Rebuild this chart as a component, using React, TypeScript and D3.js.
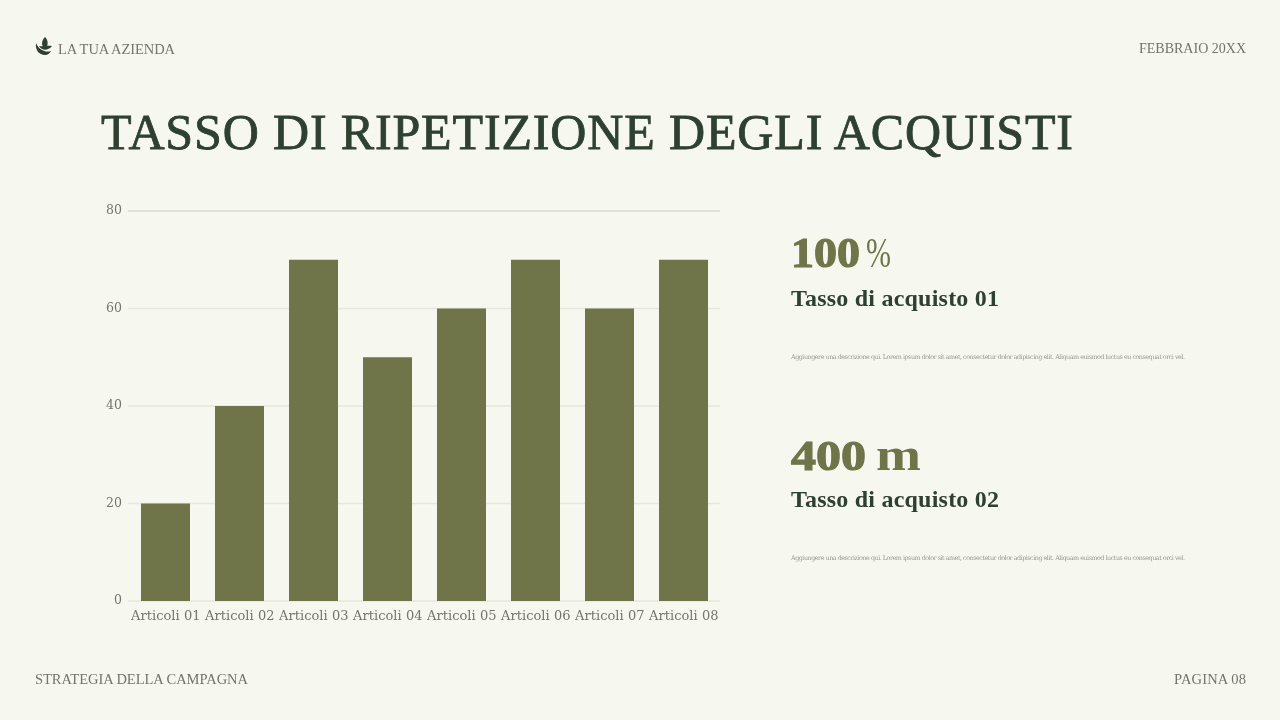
import { useEffect, useRef } from "react"
import * as d3 from "d3"

const categories = ["Articoli 01", "Articoli 02", "Articoli 03", "Articoli 04", "Articoli 05", "Articoli 06", "Articoli 07", "Articoli 08"]
const values = [20, 40, 70, 50, 60, 70, 60, 70]
const yTicks = [0, 20, 40, 60, 80]
const description = "Aggiungere una descrizione qui. Lorem ipsum dolor sit amet, consectetur dolor adipiscing elit. Aliquam euismod luctus eu consequat orci vel."
const statBig = ["100", "400"]
const statUnit = ["%", "m"]
const statLabel = ["Tasso di acquisto 01", "Tasso di acquisto 02"]

const BG = "#f6f8f0"
const DARK = "#2f4030"
const OLIVE = "#6f7549"
const GREY = "#74746b"
const SERIF = "'Liberation Serif', serif"
const BODY = "'DejaVu Serif', serif"

const App = () => {
  const svgRef = useRef<SVGSVGElement | null>(null)

  useEffect(() => {
    const svg = d3.select(svgRef.current)
    svg.selectAll("*").remove()

    svg.append("rect").attr("width", 1280).attr("height", 720).attr("fill", BG)

    // slight blur: the reference is soft and has no coloured text fringes
    svg.append("defs").append("filter").attr("id", "soft")
      .attr("filterUnits", "userSpaceOnUse")
      .attr("x", 0).attr("y", 0).attr("width", 1280).attr("height", 720)
      .append("feGaussianBlur").attr("stdDeviation", 0.3)

    const root = svg.append("g").attr("filter", "url(#soft)")

    const text = (x: number, y: number, s: string, size: number, fill: string, family = SERIF, anchor = "start") =>
      root.append("text").attr("x", x).attr("y", y).attr("font-size", size)
        .attr("fill", fill).attr("font-family", family).attr("text-anchor", anchor).text(s)

    // header and footer
    text(58, 54, "LA TUA AZIENDA", 14.5, GREY).attr("textLength", 117)
    text(1139, 53, "FEBBRAIO 20XX", 14, GREY).attr("textLength", 107)
    text(35, 684, "STRATEGIA DELLA CAMPAGNA", 14.5, GREY).attr("textLength", 213)
    text(1174, 684, "PAGINA 08", 14.5, GREY).attr("textLength", 72)

    // leaf logo
    const logo = root.append("g").attr("fill", DARK)
    logo.append("path").attr("d", "M45 37 C49 41 48 46 45 49 C41 46 41 41 45 37 Z")
    logo.append("path").attr("d", "M36 43 C35 50 39 55 45 55 C48 55 50 53 51 51 C46 53 39 50 36 43 Z")
    logo.append("path").attr("d", "M39 46 C42 51 48 51 52 46 C47 45 43 47 39 46 Z")

    text(101, 149, "TASSO DI RIPETIZIONE DEGLI ACQUISTI", 50, DARK).attr("textLength", 972)
      .attr("lengthAdjust", "spacing")
      .attr("stroke", DARK).attr("stroke-width", 0.8)

    // chart
    const x = d3.scaleBand<string>().domain(categories).range([128.5, 720.5]).paddingInner(0.338).paddingOuter(0.169)
    const y = d3.scaleLinear().domain([0, 80]).range([601, 211])

    const chart = root.append("g")
    chart.selectAll("line.grid").data(yTicks).enter().append("line")
      .attr("class", "grid")
      .attr("x1", 128).attr("x2", 720)
      .attr("y1", d => y(d)).attr("y2", d => y(d))
      .attr("stroke", d => (d === 80 ? "#c8cabf" : "#e5e7dc"))
      .attr("stroke-width", d => (d === 80 ? 1 : 1.5))

    chart.selectAll("rect").data(values).enter().append("rect")
      .attr("x", (_, i) => x(categories[i]) as number)
      .attr("y", d => y(d))
      .attr("width", x.bandwidth())
      .attr("height", d => y(0) - y(d))
      .attr("fill", OLIVE)

    chart.selectAll("text.ytick").data(yTicks).enter().append("text")
      .attr("class", "ytick")
      .attr("x", 122).attr("y", d => y(d) + 3)
      .attr("text-anchor", "end")
      .attr("font-size", 12.5).attr("font-family", BODY).attr("fill", GREY)
      .text(d => d)

    chart.selectAll("text.xtick").data(categories).enter().append("text")
      .attr("class", "xtick")
      .attr("x", d => (x(d) as number) + x.bandwidth() / 2 - 34.5)
      .attr("y", 620)
      .attr("font-size", 13).attr("font-family", BODY).attr("fill", GREY)
      .attr("textLength", 69.5)
      .text(d => d)

    // side stats
    statBig.forEach((big, i) => {
      const by = i === 0 ? 267 : 470
      const ly = i === 0 ? 306 : 507
      const dy = i === 0 ? 359 : 560
      const bigLen = i === 0 ? 69 : 75
      const unitX = i === 0 ? 866 : 876
      const unitLen = i === 0 ? 25 : 45

      text(791, by, big, 43, OLIVE).attr("font-weight", 700)
        .attr("textLength", bigLen).attr("lengthAdjust", "spacingAndGlyphs")
        .attr("stroke", OLIVE).attr("stroke-width", 1.2)
      text(unitX, by, statUnit[i], i === 0 ? 43 : 46, OLIVE).attr("font-weight", i === 0 ? 400 : 700)
        .attr("textLength", unitLen).attr("lengthAdjust", "spacingAndGlyphs")

      text(791, ly, statLabel[i], 24, DARK).attr("font-weight", 700).attr("textLength", 208)
      text(791, dy, description, 6.4, "#98988e", BODY).attr("textLength", 394)
    })
  }, [])

  return <svg ref={svgRef} width={1280} height={720} style={{ position: "absolute", left: 0, top: 0 }}></svg>
}

export default App
